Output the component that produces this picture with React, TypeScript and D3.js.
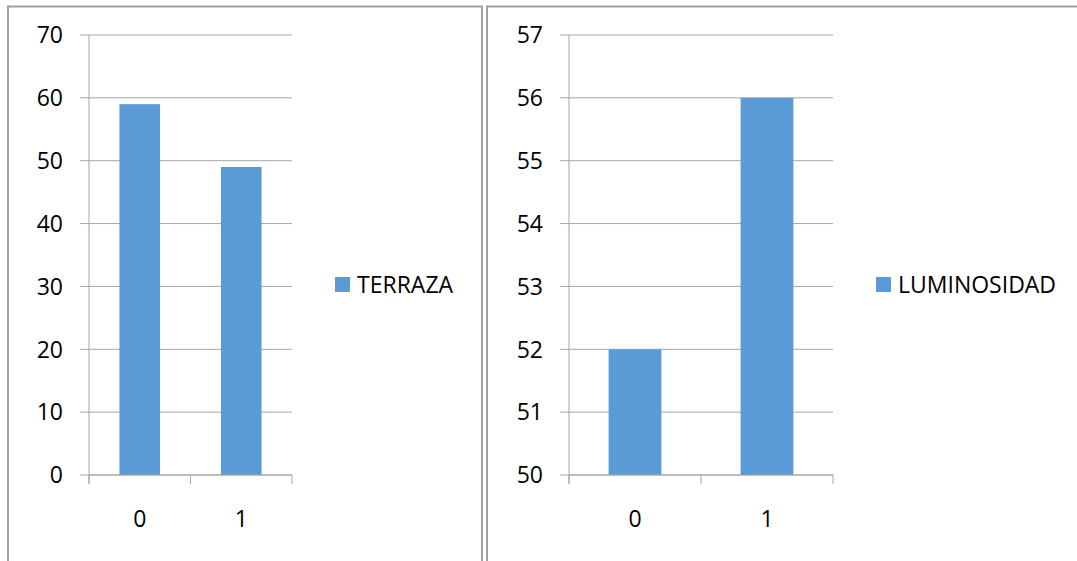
import React from "react";
import * as d3 from "d3";

// Category labels shared by both charts
const categories = ["0", "1"];

// Series values
const terrazaValues = [59, 49];
const luminosidadValues = [52, 56];

// Value-axis ticks
const terrazaTicks = [0, 10, 20, 30, 40, 50, 60, 70];
const luminosidadTicks = [50, 51, 52, 53, 54, 55, 56, 57];

const BAR = "#5B9BD5";
const GRID = "#a6a6a6";
const BORDER = "#a0a0a0";
const FONT = "'Open Sans', 'Liberation Sans', sans-serif";
const FS = 23;

type PanelProps = {
  name: string;
  values: number[];
  ticks: number[];
  left: number;
  right: number;
  labelRight: number;
  legendX: number;
};

const TOP = 35;
const BOTTOM = 475;

function Panel({ name, values, ticks, left, right, labelRight, legendX }: PanelProps) {
  const y = d3
    .scaleLinear()
    .domain([ticks[0], ticks[ticks.length - 1]])
    .range([BOTTOM, TOP]);
  const x = d3
    .scaleBand<string>()
    .domain(categories)
    .range([left, right])
    .paddingInner(0.6)
    .paddingOuter(0.3);
  const step = x.step();
  const bounds = [...categories.map((c) => (x(c) as number) - 0.3 * step), right];

  return (
    <g>
      {ticks.map((t) => (
        <g key={t}>
          <line x1={left - 9} x2={right} y1={y(t)} y2={y(t)} stroke={GRID} strokeWidth={1} />
          <text
            x={labelRight}
            y={y(t)}
            dy="0.36em"
            textAnchor="end"
            fontFamily={FONT}
            fontSize={FS}
            fill="#000"
          >
            {t}
          </text>
        </g>
      ))}
      {categories.map((c, i) => (
        <rect
          key={c}
          x={x(c)}
          width={x.bandwidth()}
          y={y(values[i])}
          height={BOTTOM - y(values[i])}
          fill={BAR}
        />
      ))}
      <line x1={left} x2={left} y1={TOP} y2={BOTTOM + 9} stroke={GRID} strokeWidth={1} />
      <line x1={left} x2={right} y1={BOTTOM} y2={BOTTOM} stroke={GRID} strokeWidth={1} />
      {bounds.map((b, i) => (
        <line key={i} x1={b} x2={b} y1={BOTTOM} y2={BOTTOM + 9} stroke={GRID} strokeWidth={1} />
      ))}
      {categories.map((c) => (
        <text
          key={c}
          x={(x(c) as number) + x.bandwidth() / 2}
          y={519}
          dy="0.36em"
          textAnchor="middle"
          fontFamily={FONT}
          fontSize={FS}
          fill="#000"
        >
          {c}
        </text>
      ))}
      <rect x={legendX} y={277} width={15} height={15} fill={BAR} />
      <text x={legendX + 22} y={285} dy="0.36em" fontFamily={FONT} fontSize={FS} fill="#000">
        {name}
      </text>
    </g>
  );
}

export default function App() {
  return (
    <svg
      width={1077}
      height={561}
      style={{ position: "absolute", left: 0, top: 0, background: "#fff" }}
    >
      <rect x={0} y={0} width={1077} height={561} fill="#fff" />
      <rect x={8} y={6.5} width={474} height={570} fill="none" stroke={BORDER} strokeWidth={2} />
      <rect x={487} y={6.5} width={600} height={570} fill="none" stroke={BORDER} strokeWidth={2} />
      <Panel
        name="TERRAZA"
        values={terrazaValues}
        ticks={terrazaTicks}
        left={89}
        right={292}
        labelRight={63}
        legendX={335}
      />
      <Panel
        name="LUMINOSIDAD"
        values={luminosidadValues}
        ticks={luminosidadTicks}
        left={569}
        right={833}
        labelRight={543}
        legendX={876}
      />
    </svg>
  );
}
